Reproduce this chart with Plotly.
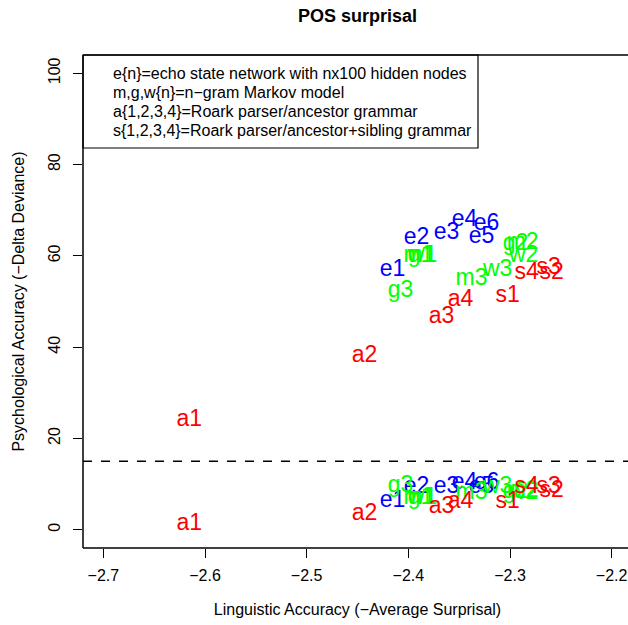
import plotly.graph_objects as go

# model labels and their values (x = -average surprisal; two psychological measures)
e_labels = ["e1", "e2", "e3", "e4", "e5", "e6"]
e_x = [-2.4156, -2.3919, -2.3624, -2.3447, -2.3280, -2.3230]
e_upper = [56.8, 63.8, 64.9, 67.8, 64.0, 66.9]
e_lower = [6.3, 9.4, 9.2, 10.1, 9.2, 10.1]

n_labels = ["m1", "g1", "w1", "m2", "g2", "w2", "m3", "g3", "w3"]
n_x = [-2.3890, -2.3880, -2.3860, -2.2876, -2.2945, -2.2866, -2.3378, -2.4077, -2.3122]
n_upper = [59.9, 59.9, 59.9, 62.7, 62.5, 59.9, 54.9, 52.2, 56.8]
n_lower = [7.0, 7.0, 7.0, 8.5, 8.3, 8.1, 8.1, 9.6, 9.2]

a_labels = ["a1", "a2", "a3", "a4"]
a_x = [-2.6154, -2.4431, -2.3673, -2.3486]
a_upper = [24.0, 38.0, 46.5, 50.3]
a_lower = [1.3, 3.3, 5.0, 6.1]

s_labels = ["s1", "s2", "s3", "s4"]
s_x = [-2.3024, -2.2591, -2.2620, -2.2837]
s_upper = [51.1, 56.2, 57.3, 56.2]
s_lower = [6.1, 8.5, 9.4, 9.4]

threshold = 15
x_ticks = [-2.7, -2.6, -2.5, -2.4, -2.3, -2.2]
x_ticktext = ["\u22122.7", "\u22122.6", "\u22122.5", "\u22122.4", "\u22122.3", "\u22122.2"]
y_ticks = [0, 20, 40, 60, 80, 100]

legend_lines = [
    "e{n}=echo state network with nx100 hidden nodes",
    "m,g,w{n}=n\u2212gram Markov model",
    "a{1,2,3,4}=Roark parser/ancestor grammar",
    "s{1,2,3,4}=Roark parser/ancestor+sibling grammar",
]

FONT = "Liberation Sans, Arial, Helvetica, sans-serif"

# figure geometry (plot region runs slightly past the 628px window, as in the reference)
W, H = 632, 625
L, T, B = 83, 55, 77
PW, PH = W - L, H - T - B

fig = go.Figure()
groups = [
    (e_labels, e_x, e_upper, e_lower, "#0000FF"),
    (n_labels, n_x, n_upper, n_lower, "#00FF00"),
    (a_labels, a_x, a_upper, a_lower, "#FF0000"),
    (s_labels, s_x, s_upper, s_lower, "#FF0000"),
]
for labels, xs, ups, lows, col in groups:
    for ys in (ups, lows):
        fig.add_trace(go.Scatter(
            x=xs, y=ys, text=labels, mode="text",
            textposition="middle center",
            textfont=dict(family=FONT, size=23, color=col),
            showlegend=False, hoverinfo="skip", cliponaxis=False,
        ))

# dashed threshold line
fig.add_shape(type="line", xref="paper", yref="y", x0=0, x1=1,
              y0=threshold, y1=threshold,
              line=dict(color="black", width=1.6, dash="dash"))

# frame (left, top, bottom; the right side lies outside the window)
for (x0, y0, x1, y1) in [(0, 0, 0, 1), (0, 1, 1, 1), (0, 0, 1, 0)]:
    fig.add_shape(type="line", xref="paper", yref="paper",
                  x0=x0, y0=y0, x1=x1, y1=y1,
                  line=dict(color="black", width=1.5))

# legend box at top-left corner of plot
fig.add_shape(type="rect", xref="paper", yref="paper",
              x0=0, x1=(478 - L) / PW, y0=1 - (148 - T) / PH, y1=1,
              line=dict(color="black", width=1.2), fillcolor="rgba(0,0,0,0)")
for i, line in enumerate(legend_lines):
    fig.add_annotation(text=line, xref="paper", yref="paper",
                       x=(111 - L) / PW, y=1 - (73 + 19 * i - T) / PH,
                       xanchor="left", yanchor="middle", showarrow=False,
                       font=dict(family=FONT, size=16, color="black"))

fig.update_layout(
    width=W, height=H,
    margin=dict(l=L, r=0, t=T, b=B),
    paper_bgcolor="white", plot_bgcolor="white",
    title=dict(text="<b>POS surprisal</b>", x=(L + W) / 2 / W, xanchor="center",
               y=1 - 16 / H, yanchor="middle",
               font=dict(family=FONT, size=18, color="black")),
    font=dict(family=FONT, color="black"),
)
fig.update_xaxes(
    range=[-2.72, -2.18], tickvals=x_ticks, ticktext=x_ticktext,
    ticks="outside", ticklen=9, tickwidth=1.2, tickcolor="black",
    ticklabelstandoff=4, automargin=False, ticklabeloverflow="allow",
    showgrid=False, zeroline=False, showline=False,
    tickfont=dict(family=FONT, size=16),
    title=dict(text="Linguistic Accuracy (\u2212Average Surprisal)",
               font=dict(family=FONT, size=16), standoff=20),
)
fig.update_yaxes(
    range=[-4, 104], tickvals=y_ticks,
    ticks="outside", ticklen=9, tickwidth=1.2, tickcolor="black",
    tickangle=-90, ticklabelstandoff=7, automargin=False,
    showgrid=False, zeroline=False, showline=False,
    tickfont=dict(family=FONT, size=16),
    title=dict(text="Psychological Accuracy (\u2212Delta Deviance)",
               font=dict(family=FONT, size=16), standoff=16),
)

fig.write_html(
    "out.html",
    config={"displayModeBar": False},
    post_script="document.body.style.margin='0px';document.body.style.overflow='hidden';",
)
